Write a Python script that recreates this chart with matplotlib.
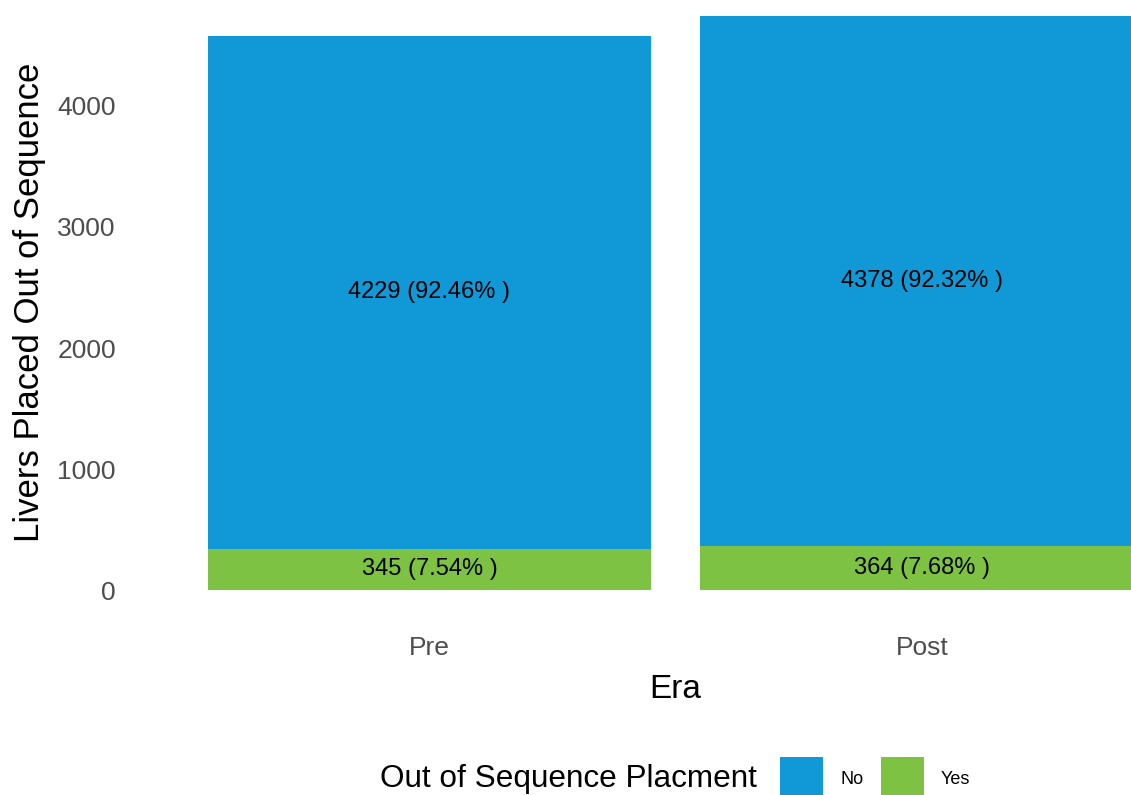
import numpy as np
import matplotlib
matplotlib.use("Agg")
import matplotlib.pyplot as plt
from matplotlib.patches import Rectangle

plt.rcParams['font.family'] = ['Liberation Sans', 'DejaVu Sans']

# data
eras = ["Pre", "Post"]
n_no = [4229, 4378]
n_yes = [345, 364]
pct_no = [92.46, 92.32]
pct_yes = [7.54, 7.68]
categories = ["No", "Yes"]
colors = {"No": "#1199d7", "Yes": "#7dc242"}

W, H = 1131, 795
fig = plt.figure(figsize=(W / 100, H / 100), dpi=100)

# panel in pixel coordinates (panel runs past the right edge, as in the original)
left, right, top, bottom = 134, 1131, 16, 619
ax = fig.add_axes([left / W, 1 - bottom / H, (right - left) / W, (bottom - top) / H])

x = np.arange(1, len(eras) + 1)
ax.bar(x, n_yes, width=0.9, color=colors["Yes"], linewidth=0)
ax.bar(x, n_no, bottom=n_yes, width=0.9, color=colors["No"], linewidth=0)

for i in range(len(eras)):
    ax.text(x[i], n_yes[i] + n_no[i] / 2, f"{n_no[i]} ({pct_no[i]:.2f}% )",
            ha="center", va="center", fontsize=17, color="black")
    ax.text(x[i], n_yes[i] / 2, f"{n_yes[i]} ({pct_yes[i]:.2f}% )",
            ha="center", va="center", fontsize=17, color="black")

px_per_unit = 492.5
ax.set_xlim(0.4, 0.4 + (right - left) / px_per_unit)
ymax = n_yes[1] + n_no[1]
ax.set_ylim(-237, ymax)

ax.set_xticks(x)
ax.set_xticklabels(eras)
ax.set_yticks([0, 1000, 2000, 3000, 4000])
ax.tick_params(axis="both", length=0, labelsize=19, labelcolor="#4d4d4d")
ax.tick_params(axis="x", pad=12)
ax.tick_params(axis="y", pad=13)
for s in ax.spines.values():
    s.set_visible(False)

ax.set_xlabel("Era", fontsize=24)
ax.set_ylabel("Livers Placed Out of Sequence", fontsize=25)
ax.xaxis.set_label_coords((675 - left) / (right - left), (bottom - 689) / (bottom - top))
ax.yaxis.set_label_coords((30 - left) / (right - left), (bottom - 302) / (bottom - top))
ax.xaxis.label.set_va("center")
ax.yaxis.label.set_va("center")

# legend at bottom
fig.text(380 / W, 1 - 779 / H, "Out of Sequence Placment", fontsize=22.7,
         ha="left", va="center")
key_x = [780, 881]
for cat, kx in zip(categories, key_x):
    fig.patches.append(Rectangle((kx / W, 1 - 796 / H), 43 / W, 39 / H,
                                 transform=fig.transFigure, color=colors[cat],
                                 linewidth=0))
    fig.text((kx + 60) / W, 1 - 779 / H, cat, fontsize=13, ha="left", va="center")

fig.savefig("out.png", dpi=100)
